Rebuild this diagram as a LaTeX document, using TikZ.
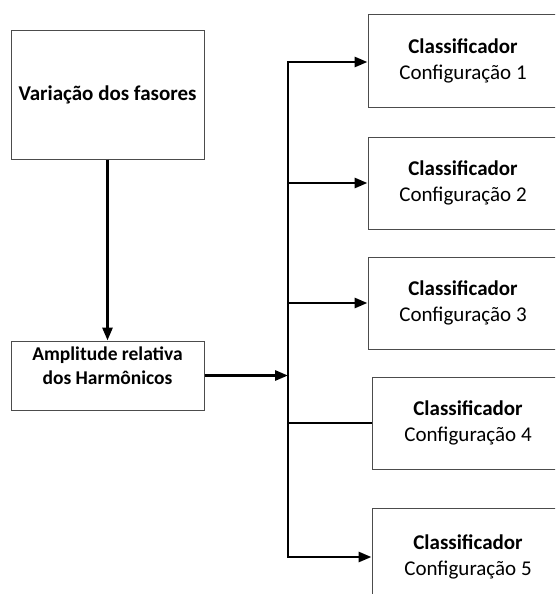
\documentclass[tikz,border=0pt]{standalone}
\usepackage{fontspec}
\setmainfont{Carlito}
\usepackage{tikz}
\usetikzlibrary{arrows.meta}

\begin{document}
\begin{tikzpicture}[x=1pt, y=-1pt]

        \tikzset{box/.style = {draw=black!70, line width=1pt, align=center, inner sep=0pt, font=\fontsize{21}{25.5}\selectfont}}
        \tikzset{wire/.style = {line width=2.8pt, line join=miter}}
        \tikzset{arrow/.style = {wire, -{Triangle[length=13pt,width=10pt]}}}

        \clip (0,0) rectangle (555,594);

        \node[box, minimum width=193, minimum height=128] (var) at (107.5,95) {\textbf{Variação dos fasores}};
        \node[box, minimum width=193, minimum height=69,
              label={[font=\fontsize{19.5}{23.5}\selectfont\bfseries, align=center, anchor=north, yshift=-3]north:{Amplitude relativa\\dos Harmônicos}}] (amp) at (107.5,375.5) {};

        \node[box, minimum width=190, minimum height=92] (c1) at (463,61) {\textbf{Classificador}\\Configuração 1};
        \node[box, minimum width=190, minimum height=92] (c2) at (463,183) {\textbf{Classificador}\\Configuração 2};
        \node[box, minimum width=190, minimum height=92] (c3) at (463,303) {\textbf{Classificador}\\Configuração 3};
        \node[box, minimum width=192, minimum height=92] (c4) at (468,423) {\textbf{Classificador}\\Configuração 4};
        \node[box, minimum width=192, minimum height=98] (c5) at (468,557) {\textbf{Classificador}\\Configuração 5};

        \coordinate (j1) at (288,62);
        \coordinate (j2) at (288,183);
        \coordinate (j3) at (288,303);
        \coordinate (j4) at (288,423);
        \coordinate (j5) at (288,557);

        \draw[arrow] (var) -- (amp);
        \draw[arrow] (amp.east) -- (amp.east -| j1);

        % bus
        \draw[arrow] (j3) -- (j1) -- (j1 -| c1.west);
        \draw[arrow] (j3) -- (j5) -- (j5 -| c5.west);
        \draw[arrow] (j2) -- (j2 -| c2.west);
        \draw[arrow] (j3) -- (j3 -| c3.west);
        \draw[wire] (j4) -- (j4 -| c4.west);
\end{tikzpicture}
\end{document}
